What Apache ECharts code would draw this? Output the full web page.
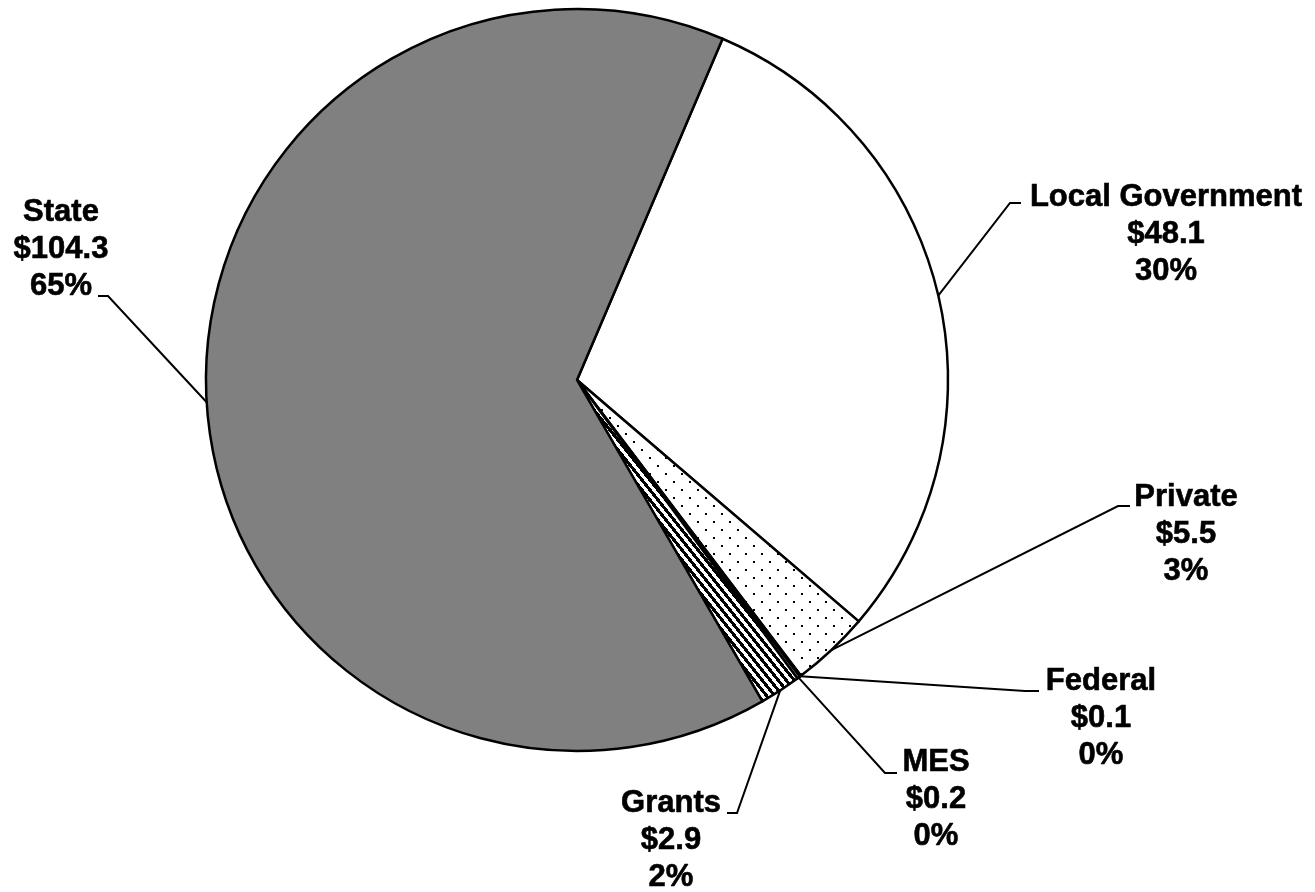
<!DOCTYPE html>
<html>
<head>
<meta charset="utf-8">
<script src="https://cdn.jsdelivr.net/npm/echarts@6/dist/echarts.min.js"></script>
<style>
  html, body { margin: 0; padding: 0; background: #ffffff; }
  #chart { width: 1315px; height: 892px; }
</style>
</head>
<body>
<div id="chart"></div>
<script>
// Revenue sources ($ millions), in clockwise order starting from Local Government
const categories = ['Local Government', 'Private', 'Federal', 'MES', 'Grants', 'State'];
const amounts = [48.1, 5.5, 0.1, 0.2, 2.9, 104.3];

// Fill patterns
function dotPattern() {
  const c = document.createElement('canvas');
  c.width = 16; c.height = 16;
  const g = c.getContext('2d');
  g.fillStyle = '#ffffff';
  g.fillRect(0, 0, 16, 16);
  g.fillStyle = '#000000';
  g.fillRect(1, 1, 2, 2);
  g.fillRect(9, 9, 2, 2);
  return c;
}
function stripePattern() {
  const w = 8, h = 10, band = 4;
  const c = document.createElement('canvas');
  c.width = w; c.height = h;
  const g = c.getContext('2d');
  const img = g.createImageData(w, h);
  for (let y = 0; y < h; y++) {
    for (let x = 0; x < w; x++) {
      const t = (((x - y * w / h) % w) + w) % w;
      const v = t < band ? 0 : 255;
      const i = (y * w + x) * 4;
      img.data[i] = v; img.data[i + 1] = v; img.data[i + 2] = v; img.data[i + 3] = 255;
    }
  }
  g.putImageData(img, 0, 0);
  return c;
}

const fills = [
  '#ffffff',
  { image: dotPattern(), repeat: 'repeat' },
  '#ffffff',
  '#ffffff',
  { image: stripePattern(), repeat: 'repeat' },
  '#808080'
];

// Label block centres and leader-line elbows
const labelPlacement = [
  { x: 1166, y: 234, elbow: [1010, 203], end: [1021, 203] },
  { x: 1186, y: 534, elbow: [1118, 506], end: [1130, 506] },
  { x: 1101, y: 718, elbow: [1025, 691], end: [1039, 691] },
  { x: 936,  y: 799, elbow: [885, 773],  end: [897, 773] },
  { x: 671,  y: 840, elbow: [737, 813],  end: [727, 813] },
  { x: 61,   y: 249, elbow: [108, 296],  end: [98, 296] }
];

const chart = echarts.init(document.getElementById('chart'), null, { renderer: 'canvas' });

chart.setOption({
  backgroundColor: '#ffffff',
  animation: false,
  series: [{
    type: 'pie',
    center: [577, 380],
    radius: 371,
    startAngle: 66.9,
    clockwise: true,
    percentPrecision: 0,
    avoidLabelOverlap: false,
    data: categories.map((name, i) => ({
      name: name,
      value: amounts[i],
      itemStyle: { color: fills[i] }
    })),
    itemStyle: { borderColor: '#000000', borderWidth: 2.5 },
    emphasis: { disabled: true },
    label: {
      show: true,
      position: 'outside',
      formatter: p => p.name + '\n$' + p.value.toFixed(1) + '\n' + p.percent + '%',
      fontFamily: '"Liberation Sans", Arial, sans-serif',
      fontWeight: 'bold',
      fontSize: 31,
      lineHeight: 37,
      color: '#000000',
      textBorderColor: '#000000',
      textBorderWidth: 0.6,
      align: 'center'
    },
    labelLine: {
      show: true,
      smooth: false,
      lineStyle: { color: '#000000', width: 2 }
    },
    labelLayout: function (params) {
      const L = labelPlacement[params.dataIndex];
      let start = params.labelLinePoints && params.labelLinePoints[0];
      if (!start) {
        const lay = chart.getModel().getSeriesByIndex(0).getData().getItemLayout(params.dataIndex);
        const mid = (lay.startAngle + lay.endAngle) / 2;
        start = [lay.cx + lay.r * Math.cos(mid), lay.cy + lay.r * Math.sin(mid)];
      }
      return {
        x: L.x,
        y: L.y,
        align: 'center',
        verticalAlign: 'middle',
        labelLinePoints: [start, L.elbow, L.end]
      };
    }
  }]
});
</script>
</body>
</html>
